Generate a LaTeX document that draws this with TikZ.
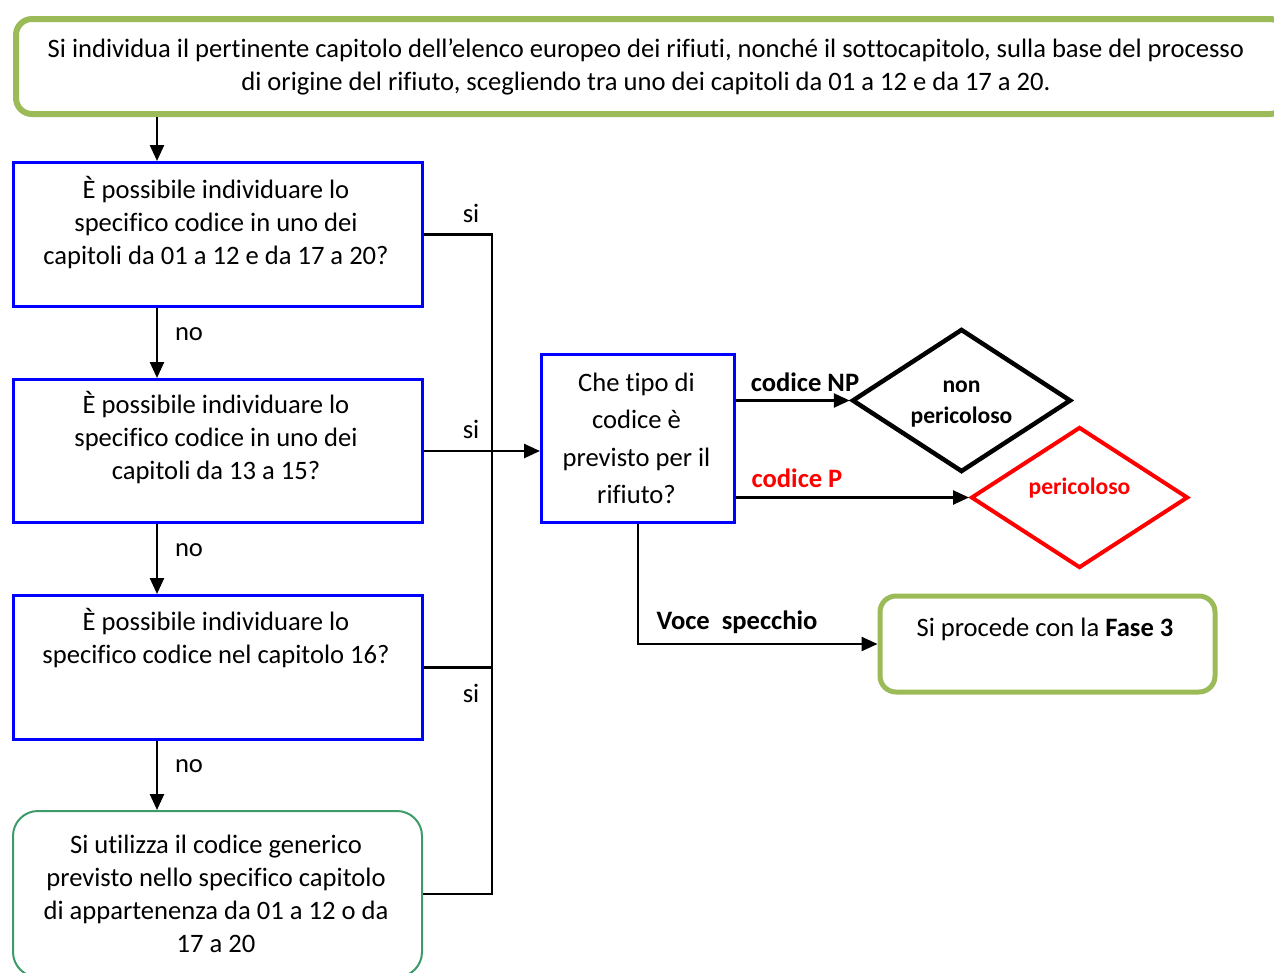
\documentclass[tikz,border=0pt]{standalone}
\usepackage{fontspec}
\setmainfont{Carlito}[Ligatures=NoCommon]
\usetikzlibrary{shapes.geometric,arrows.meta}
\definecolor{olivegr}{HTML}{9BBB59}
\definecolor{bblue}{HTML}{0000FF}
\definecolor{tgreen}{RGB}{60,155,105}
\definecolor{rred}{HTML}{FF0000}
\begin{document}
\begin{tikzpicture}[x=1pt,y=-1pt,
  qbox/.style={draw=bblue, line width=3pt, minimum width=409pt, minimum height=144pt, anchor=north west, inner sep=0pt},
  txt/.style={font=\fontsize{26.6}{33}\selectfont, align=center, inner sep=0pt},
  lbl/.style={font=\fontsize{26.6}{33}\selectfont, inner sep=0pt},
  blbl/.style={font=\fontsize{26.6}{33}\selectfont\bfseries, inner sep=0pt},
  conn/.style={line width=2.5pt},
  arr/.style={conn, -{Triangle[length=16pt,width=14pt]}}
]
\useasboundingbox (0,0) rectangle (1274,972);
\clip (0,0) rectangle (1274,972);
% top box
\node[draw=olivegr, line width=6pt, rounded corners=16pt, minimum width=1270pt, minimum height=95pt, anchor=north west, inner sep=0pt] (top) at (13,16) {};
\node[txt] (ttop) at (646,66.5) {Si individua il pertinente capitolo dell’elenco europeo dei rifiuti, nonché il sottocapitolo, sulla base del processo\\di origine del rifiuto, scegliendo tra uno dei capitoli da 01 a 12 e da 17 a 20.};
% question boxes
\node[qbox] (b1) at (12,161) {};
\node[txt] (t1) at (216,222.5) {È possibile individuare lo\\specifico codice in uno dei\\capitoli da 01 a 12 e da 17 a 20?};
\node[qbox, minimum height=143pt] (b2) at (12,378) {};
\node[txt] (t2) at (216,438) {È possibile individuare lo\\specifico codice in uno dei\\capitoli da 13 a 15?};
\node[qbox] (b3) at (12,594) {};
\node[txt] (t3) at (216,638) {È possibile individuare lo\\specifico codice nel capitolo 16?};
\node[draw=tgreen, line width=2pt, rounded corners=25pt, minimum width=409pt, minimum height=166pt, anchor=north west, inner sep=0pt] (b4) at (12,810) {};
\node[txt] (t4) at (216,894) {Si utilizza il codice generico\\previsto nello specifico capitolo\\di appartenenza da 01 a 12 o da\\17 a 20};
% middle box
\node[draw=bblue, line width=3pt, minimum width=193pt, minimum height=168pt, anchor=north west, inner sep=0pt] (mid) at (540,353) {};
\node[font=\fontsize{26.6}{37.5}\selectfont, align=center, inner sep=0pt] (tmid) at (636.5,438.5) {Che tipo di\\codice è\\previsto per il\\rifiuto?};
% diamonds
\node[diamond, draw=black, line width=4.5pt, minimum width=219pt, minimum height=143pt, inner sep=0pt] (np) at (961.5,400.5) {};
\node[font=\fontsize{23.6}{31}\selectfont\bfseries, align=center, inner sep=0pt] (tnp) at (961.5,404) {non\\pericoloso};
\node[diamond, draw=rred, line width=4pt, minimum width=217pt, minimum height=141pt, inner sep=0pt] (pd) at (1079.5,497.5) {};
\node[font=\fontsize{23.6}{31}\selectfont\bfseries, text=rred, inner sep=0pt] (tpd) at (1079.5,488) {pericoloso};
% fase 3
\node[draw=olivegr, line width=5pt, rounded corners=16pt, minimum width=335pt, minimum height=96pt, anchor=north west, inner sep=0pt] (f3) at (877.5,593.5) {};
\node[lbl] (tf3) at (1045,629) {Si procede con la \textbf{Fase 3}};
% vertical arrows
\coordinate (ax) at (157,0);
\coordinate (bus) at (492,0);
\draw[arr] (ax |- top.south) -- (ax |- b1.north);
\draw[arr] (ax |- b1.south) -- (ax |- b2.north);
\draw[arr] (ax |- b2.south) -- (ax |- b3.north);
\draw[arr] (ax |- b3.south) -- (ax |- b4.north);
\node[lbl] (no1) at (189,334) {no};
\node[lbl] (no2) at (189,550) {no};
\node[lbl] (no3) at (189,766) {no};
% si bus
\draw[conn] (b1.east) -- (b1.east -| bus) -- (b4.east -| bus) -- (b4.east);
\draw[conn] (b3.east) -- (b3.east -| bus);
\draw[arr] (b2.east) -- (b2.east -| mid.west);
\node[lbl] (si1) at (471,213) {si};
\node[lbl] (si2) at (471,429) {si};
\node[lbl] (si3) at (471,693) {si};
% outputs of middle box
\draw[arr] (np.west -| mid.east) -- (np.west);
\draw[arr] (pd.west -| mid.east) -- (pd.west);
\draw[arr] (mid.south) |- (f3.west);
\node[blbl] (lnp) at (805,382) {codice NP};
\node[blbl, text=rred] (lp) at (797,478) {codice P};
\node[blbl] (lvs) at (737,622) {Voce\ \ specchio};
\end{tikzpicture}
\end{document}
